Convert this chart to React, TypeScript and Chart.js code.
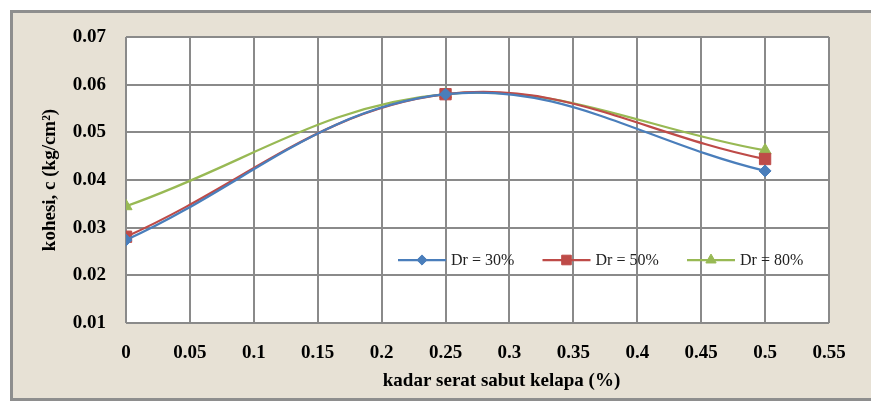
import React, { useEffect, useRef } from 'react';
import { Chart, registerables } from 'chart.js';

Chart.register(...registerables);

// ---- data ----
const xValues = [0, 0.25, 0.5];
const dr30 = [0.0274, 0.058, 0.0419];
const dr50 = [0.0281, 0.058, 0.0444];
const dr80 = [0.0345, 0.058, 0.0462];
const seriesLabels = ['Dr = 30%', 'Dr = 50%', 'Dr = 80%'];
const seriesColors = ['#4a7ebb', '#be4b48', '#98b954'];
const seriesMarkers = ['rectRot', 'rect', 'triangle'];
const seriesRadius = [6, 8, 7];
const xMin = 0;
const xMax = 0.55;
const xStep = 0.05;
const yMin = 0.01;
const yMax = 0.07;
const yStep = 0.01;
const xTitle = 'kadar serat sabut kelapa (%)';
const yTitle = 'kohesi, c (kg/cm²)';

const FONT = '"Liberation Serif", "Times New Roman", serif';

function drawMarker(ctx: CanvasRenderingContext2D, style: string, x: number, y: number, r: number, color: string) {
  ctx.save();
  ctx.fillStyle = color;
  ctx.strokeStyle = color;
  ctx.lineWidth = 1;
  ctx.beginPath();
  if (style === 'rectRot') {
    ctx.moveTo(x, y - r);
    ctx.lineTo(x + r, y);
    ctx.lineTo(x, y + r);
    ctx.lineTo(x - r, y);
    ctx.closePath();
  } else if (style === 'rect') {
    const s = r * Math.SQRT1_2;
    ctx.rect(x - s, y - s, 2 * s, 2 * s);
  } else {
    const h = r * 1.5;
    const w = r * Math.sqrt(3) / 2;
    ctx.moveTo(x, y - r);
    ctx.lineTo(x + w, y + h - r);
    ctx.lineTo(x - w, y + h - r);
    ctx.closePath();
  }
  ctx.fill();
  ctx.stroke();
  ctx.restore();
}

const framePlugin = {
  id: 'frame',
  beforeDraw(chart: any) {
    const { ctx, width, height, chartArea } = chart;
    ctx.save();
    ctx.fillStyle = '#ffffff';
    ctx.fillRect(0, 0, width, height);
    ctx.fillStyle = '#e7e1d5';
    ctx.fillRect(10, 10, width, height - 14);
    ctx.strokeStyle = '#8e8e8e';
    ctx.lineWidth = 3;
    ctx.strokeRect(11.5, 11.5, width + 20, height - 17);
    ctx.fillStyle = '#ffffff';
    ctx.fillRect(chartArea.left, chartArea.top, chartArea.right - chartArea.left, chartArea.bottom - chartArea.top);
    ctx.restore();
  },
  afterDraw(chart: any) {
    const { ctx, chartArea } = chart;
    ctx.save();
    // x axis title
    ctx.fillStyle = '#000';
    ctx.font = `bold 19px ${FONT}`;
    ctx.textAlign = 'center';
    ctx.textBaseline = 'middle';
    ctx.fillText(xTitle, (chartArea.left + chartArea.right) / 2 + 24, chartArea.bottom + 58);
    // legend inside plot
    const ly = chartArea.bottom - 63;
    let lx = chartArea.left + 272;
    ctx.font = `16px ${FONT}`;
    ctx.textAlign = 'left';
    chart.data.datasets.forEach((ds: any, i: number) => {
      ctx.strokeStyle = seriesColors[i];
      ctx.lineWidth = 2.25;
      ctx.beginPath();
      ctx.moveTo(lx, ly);
      ctx.lineTo(lx + 48, ly);
      ctx.stroke();
      drawMarker(ctx, seriesMarkers[i], lx + 24, ly, seriesRadius[i] * 0.85, seriesColors[i]);
      ctx.fillStyle = '#222';
      ctx.fillText(ds.label, lx + 53, ly + 1);
      lx += 144.5;
    });
    ctx.restore();
  },
};

export default function App() {
  const ref = useRef<HTMLCanvasElement | null>(null);
  useEffect(() => {
    document.body.style.margin = '0';
    if (!ref.current) return;
    const seriesValues = [dr30, dr50, dr80];
    const chart = new Chart(ref.current, {
      type: 'line',
      data: {
        datasets: seriesValues.map((vals, i) => ({
          label: seriesLabels[i],
          data: xValues.map((x, j) => ({ x, y: vals[j] })),
          borderColor: seriesColors[i],
          backgroundColor: seriesColors[i],
          borderWidth: 2.25,
          pointStyle: seriesMarkers[i] as any,
          pointRadius: seriesRadius[i],
          pointBorderWidth: 1,
          tension: 0.38,
          fill: false,
        })),
      },
      options: {
        animation: false,
        responsive: true,
        maintainAspectRatio: false,
        layout: { padding: { left: 0, top: 37, right: 42, bottom: 0 } },
        plugins: { legend: { display: false }, tooltip: { enabled: false } },
        scales: {
          x: {
            type: 'linear',
            min: xMin,
            max: xMax,
            afterFit(scale: any) { scale.height = 82; },
            afterBuildTicks(scale: any) {
              const t = [];
              for (let v = xMin; v <= xMax + 1e-9; v += xStep) t.push({ value: Number(v.toFixed(2)) });
              scale.ticks = t;
            },
            ticks: {
              color: '#000',
              padding: 19,
              font: { family: FONT, size: 19, weight: 'bold' },
              maxRotation: 0,
              autoSkip: false,
              callback: (v: any) => String(Number(Number(v).toFixed(2))),
            },
            grid: { color: '#8a8a8a', lineWidth: 2, drawTicks: false },
            border: { display: false },
            title: { display: false },
          },
          y: {
            type: 'linear',
            min: yMin,
            max: yMax,
            afterFit(scale: any) { scale.width = 126; },
            ticks: {
              stepSize: yStep,
              color: '#000',
              padding: 20,
              font: { family: FONT, size: 19, weight: 'bold' },
              callback: (v: any) => Number(v).toFixed(2),
            },
            grid: { color: '#8a8a8a', lineWidth: 2, drawTicks: false },
            border: { display: false },
            title: {
              display: true,
              text: yTitle,
              color: '#000',
              font: { family: FONT, size: 19, weight: 'bold' },
              padding: { top: 39, bottom: 0 },
            },
          },
        },
      },
      plugins: [framePlugin],
    });
    return () => chart.destroy();
  }, []);
  return (
    <div style={{ width: 871, height: 405, position: 'relative' }}>
      <canvas ref={ref} />
    </div>
  );
}
